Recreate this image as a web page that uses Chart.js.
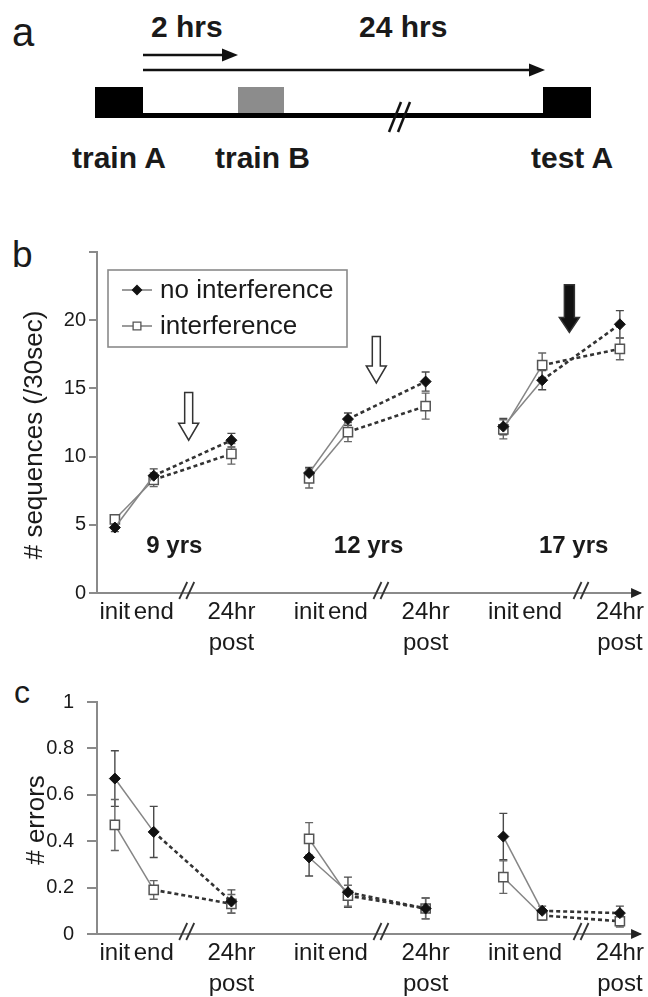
<!DOCTYPE html>
<html>
<head>
<meta charset="utf-8">
<script src="https://cdn.jsdelivr.net/npm/chart.js@4/dist/chart.umd.min.js"></script>
<style>
  html, body { margin: 0; padding: 0; background: #fff; }
  #page { position: relative; width: 648px; height: 997px; overflow: hidden; background: #fff; }
  #page svg, #page canvas { position: absolute; left: 0; }
  text { font-family: "Liberation Sans", Arial, sans-serif; fill: #1a1a1a; }
</style>
</head>
<body>
<div id="page">
  <svg width="648" height="200" style="top:0">
    <text x="12" y="46" font-size="40">a</text>
    <text x="151" y="37" font-size="30" font-weight="bold">2 hrs</text>
    <text x="359" y="37" font-size="30" font-weight="bold">24 hrs</text>
    <line x1="143" y1="55" x2="226" y2="55" stroke="#111" stroke-width="2.5"/>
    <polygon points="238,55 222,48.5 222,61.5" fill="#111"/>
    <line x1="143" y1="70" x2="533" y2="70" stroke="#111" stroke-width="2.5"/>
    <polygon points="545,70 529,63.5 529,76.5" fill="#111"/>
    <rect x="95" y="87" width="48" height="31" fill="#000"/>
    <rect x="238" y="87" width="46" height="27" fill="#8c8c8c"/>
    <rect x="543" y="87" width="48" height="31" fill="#000"/>
    <rect x="143" y="113" width="400" height="5" fill="#000"/>
    <line x1="389" y1="132" x2="401" y2="102" stroke="#111" stroke-width="2.5"/>
    <line x1="398" y1="132" x2="410" y2="102" stroke="#111" stroke-width="2.5"/>
    <text x="72" y="168" font-size="30" font-weight="bold">train A</text>
    <text x="215" y="168" font-size="30" font-weight="bold">train B</text>
    <text x="531" y="168" font-size="30" font-weight="bold">test A</text>
  </svg>
  <svg width="648" height="997" style="top:0;pointer-events:none">
    <text x="12" y="267" font-size="37">b</text>
    <text x="14" y="703" font-size="32">c</text>
  </svg>
  <canvas id="chartB" width="648" height="430" style="top:230px"></canvas>
  <canvas id="chartC" width="648" height="337" style="top:660px"></canvas>
</div>
<script>
// ---------- data ----------
const sessions = ['init', 'end', '24hr post'];
const ageGroups = ['9 yrs', '12 yrs', '17 yrs'];
const seriesNames = ['no interference', 'interference'];
// x position of each measurement (3 sessions x 3 age groups)
const xPositions = [1, 2, 4, 6, 7, 9, 11, 12, 14];
const sessionOfPoint = ['init', 'end', 'post', 'init', 'end', 'post', 'init', 'end', 'post'];
const xTickLabels = ['init', 'end', ['24hr', 'post'], 'init', 'end', ['24hr', 'post'], 'init', 'end', ['24hr', 'post']];
const breakPositions = [2.85, 7.85, 13.0];

// panel b: # sequences (/30sec)
const seqNoInterference    = [4.8, 8.6, 11.2, 8.8, 12.75, 15.5, 12.2, 15.6, 19.7];
const seqNoInterferenceErr = [0.3, 0.5, 0.5, 0.4, 0.45, 0.7, 0.6, 0.7, 1.0];
const seqInterference      = [5.4, 8.3, 10.2, 8.4, 11.8, 13.7, 12.0, 16.7, 17.9];
const seqInterferenceErr   = [0.3, 0.5, 0.75, 0.7, 0.7, 0.95, 0.7, 0.9, 0.8];
const seqYTicks = [0, 5, 10, 15, 20, 25];

// panel c: # errors
const errNoInterference    = [0.67, 0.44, 0.14, 0.33, 0.18, 0.11, 0.42, 0.10, 0.09];
const errNoInterferenceErr = [0.12, 0.11, 0.05, 0.08, 0.065, 0.045, 0.10, 0.02, 0.03];
const errInterference      = [0.47, 0.19, 0.13, 0.41, 0.165, 0.11, 0.245, 0.08, 0.055];
const errInterferenceErr   = [0.11, 0.04, 0.04, 0.07, 0.045, 0.045, 0.07, 0.02, 0.025];

// annotations in panel b
const ageLabelX = [2.53, 7.53, 12.81];
const ageLabelY = 3.4;
const arrowX = [2.9, 7.73, 12.7];
const arrowTopY = [14.7, 18.8, 22.6];
const arrowTipY = [11.2, 15.4, 19.1];
const arrowFilled = [false, false, true];

// ---------- helpers ----------
const FONT = '"Liberation Sans", Arial, sans-serif';
function buildPoints(ys, errs) {
  const pts = [];
  xPositions.forEach((x, i) => {
    pts.push({ x: x, y: ys[i], err: errs[i], session: sessionOfPoint[i] });
    if (sessionOfPoint[i] === 'post' && i < xPositions.length - 1) {
      pts.push({ x: x + 1, y: null, err: 0, session: 'gap' });
    }
  });
  return pts;
}
function isDotted(ctx) {
  const ds = ctx.chart.data.datasets[ctx.datasetIndex];
  const p = ds.data[ctx.p0DataIndex];
  return p && p.session === 'end';
}
function tickLabelFor(v) {
  const i = xPositions.indexOf(v);
  return i >= 0 ? xTickLabels[i] : '';
}
function drawMarker(ctx, style, x, y, r, fill, stroke, bw) {
  ctx.save();
  ctx.beginPath();
  if (style === 'rectRot') {
    ctx.moveTo(x, y - r); ctx.lineTo(x + r, y); ctx.lineTo(x, y + r); ctx.lineTo(x - r, y);
  } else {
    const h = r * Math.SQRT1_2;
    ctx.rect(x - h, y - h, 2 * h, 2 * h);
  }
  ctx.closePath();
  ctx.fillStyle = fill; ctx.fill();
  ctx.lineWidth = bw; ctx.strokeStyle = stroke; ctx.stroke();
  ctx.restore();
}

const errorBars = {
  id: 'errorBars',
  beforeDatasetsDraw(chart) {
    const { ctx, scales: { x, y } } = chart;
    chart.data.datasets.forEach((ds) => {
      ctx.save();
      ctx.strokeStyle = ds.errColor || '#555';
      ctx.lineWidth = 1.4;
      ds.data.forEach((p) => {
        if (p.y == null) return;
        const px = x.getPixelForValue(p.x);
        const t = y.getPixelForValue(p.y + p.err);
        const b = y.getPixelForValue(p.y - p.err);
        ctx.beginPath();
        ctx.moveTo(px, t); ctx.lineTo(px, b);
        ctx.moveTo(px - 4, t); ctx.lineTo(px + 4, t);
        ctx.moveTo(px - 4, b); ctx.lineTo(px + 4, b);
        ctx.stroke();
      });
      ctx.restore();
    });
  }
};

const decor = {
  id: 'decor',
  afterDraw(chart, args, opts) {
    const { ctx, chartArea: ca, scales: { x, y } } = chart;
    const y0 = y.getPixelForValue(0);
    ctx.save();
    // axis arrowhead
    ctx.fillStyle = '#222';
    ctx.beginPath();
    ctx.moveTo(ca.right + 2, y0); ctx.lineTo(ca.right - 9, y0 - 5); ctx.lineTo(ca.right - 9, y0 + 5);
    ctx.closePath(); ctx.fill();
    // axis breaks
    ctx.strokeStyle = '#333'; ctx.lineWidth = 1.8;
    breakPositions.forEach((bv) => {
      const bx = x.getPixelForValue(bv);
      [-3.5, 3.5].forEach((o) => {
        ctx.beginPath(); ctx.moveTo(bx + o - 4, y0 + 6); ctx.lineTo(bx + o + 4, y0 - 11); ctx.stroke();
      });
    });
    // y axis title
    ctx.save();
    ctx.translate(opts.titleX, opts.titleY);
    ctx.rotate(-Math.PI / 2);
    ctx.font = '26px ' + FONT; ctx.fillStyle = '#1a1a1a';
    ctx.textAlign = 'center'; ctx.textBaseline = 'middle';
    ctx.fillText(opts.title, 0, 0);
    ctx.restore();

    if (opts.annotate) {
      // age group labels
      ctx.font = 'bold 24px ' + FONT; ctx.fillStyle = '#1a1a1a';
      ctx.textAlign = 'center'; ctx.textBaseline = 'middle';
      ageGroups.forEach((g, i) => ctx.fillText(g, x.getPixelForValue(ageLabelX[i]), y.getPixelForValue(ageLabelY)));
      // down arrows
      arrowX.forEach((av, i) => {
        const ax = x.getPixelForValue(av);
        const top = y.getPixelForValue(arrowTopY[i]);
        const tip = y.getPixelForValue(arrowTipY[i]);
        const filled = arrowFilled[i];
        const sw = filled ? 5 : 4, hw = filled ? 10 : 10, hl = filled ? 15 : 17;
        ctx.beginPath();
        ctx.moveTo(ax - sw, top); ctx.lineTo(ax + sw, top); ctx.lineTo(ax + sw, tip - hl);
        ctx.lineTo(ax + hw, tip - hl); ctx.lineTo(ax, tip); ctx.lineTo(ax - hw, tip - hl);
        ctx.lineTo(ax - sw, tip - hl); ctx.closePath();
        ctx.fillStyle = filled ? '#111' : '#fff'; ctx.fill();
        ctx.strokeStyle = '#333'; ctx.lineWidth = 1.5; ctx.stroke();
      });
      // legend
      const lx = ca.left + 11, ly = ca.top + 18, lw = 239, lh = 77;
      ctx.strokeStyle = '#8a8a8a'; ctx.lineWidth = 1.6; ctx.strokeRect(lx, ly, lw, lh);
      chart.data.datasets.forEach((ds, i) => {
        const ry = ly + 20 + i * 36;
        ctx.strokeStyle = '#7a7a7a'; ctx.lineWidth = 1.5;
        ctx.beginPath(); ctx.moveTo(lx + 14, ry); ctx.lineTo(lx + 44, ry); ctx.stroke();
        drawMarker(ctx, ds.pointStyle, lx + 29, ry, i === 0 ? 4.5 : 5.5, ds.pointBackgroundColor, ds.pointBorderColor, 1.3);
        ctx.font = '26px ' + FONT; ctx.fillStyle = '#1a1a1a';
        ctx.textAlign = 'left'; ctx.textBaseline = 'middle';
        ctx.fillText(ds.label, lx + 52, ry + 1);
      });
    }
    ctx.restore();
  }
};

function makeDatasets(noVals, noErr, inVals, inErr) {
  const seg = {
    borderDash: (c) => (isDotted(c) ? [4, 3] : undefined),
    borderColor: (c) => (isDotted(c) ? '#333' : undefined),
    borderWidth: (c) => (isDotted(c) ? 2.6 : undefined)
  };
  return [
    {
      label: seriesNames[0], data: buildPoints(noVals, noErr),
      pointStyle: 'rectRot', pointRadius: 5.5, pointBackgroundColor: '#111', pointBorderColor: '#111', pointBorderWidth: 1,
      borderColor: '#858585', borderWidth: 1.5, segment: seg, errColor: '#4a4a4a'
    },
    {
      label: seriesNames[1], data: buildPoints(inVals, inErr),
      pointStyle: 'rect', pointRadius: 6.5, pointBackgroundColor: '#fff', pointBorderColor: '#555', pointBorderWidth: 1.5,
      borderColor: '#858585', borderWidth: 1.5, segment: seg, errColor: '#666'
    }
  ];
}

function makeOptions(cfg) {
  return {
    responsive: false, animation: false, spanGaps: false,
    layout: { padding: { top: cfg.padTop, right: 3, left: 0, bottom: 0 }, autoPadding: false },
    plugins: { legend: { display: false }, tooltip: { enabled: false }, decor: cfg.decor },
    elements: { line: { tension: 0 } },
    scales: {
      x: {
        type: 'linear', min: 0.54, max: 14.52,
        grid: { display: false, drawTicks: false },
        border: { display: true, color: '#8a8a8a', width: 2 },
        afterBuildTicks: (s) => { s.ticks = xPositions.map((v) => ({ value: v })); },
        ticks: {
          autoSkip: false, maxRotation: 0, minRotation: 0, padding: 4, color: '#1a1a1a',
          font: { family: FONT, size: 24, lineHeight: 1.28 },
          callback: (v) => tickLabelFor(v)
        },
        afterFit: (s) => { s.height = cfg.xHeight; }
      },
      y: {
        min: 0, max: cfg.yMax,
        afterBuildTicks: (s) => { s.ticks = cfg.yTicks.map((v) => ({ value: v })); },
        grid: { drawOnChartArea: false, drawTicks: true, tickLength: cfg.tickLen, color: '#8a8a8a', lineWidth: 2 },
        border: { display: true, color: '#8a8a8a', width: 2 },
        ticks: {
          padding: cfg.tickPad, color: '#1a1a1a', font: { family: FONT, size: 20 },
          callback: cfg.yLabel
        },
        afterFit: (s) => { s.width = 97; }
      }
    }
  };
}

new Chart(document.getElementById('chartB'), {
  type: 'line',
  data: { datasets: makeDatasets(seqNoInterference, seqNoInterferenceErr, seqInterference, seqInterferenceErr) },
  options: makeOptions({
    padTop: 22, xHeight: 67, yMax: 25, yTicks: seqYTicks, tickLen: 8, tickPad: 3,
    yLabel: (v) => (v === 25 ? '' : String(v)),
    decor: { title: '# sequences (/30sec)', titleX: 35, titleY: 205, annotate: true }
  }),
  plugins: [errorBars, decor]
});

const errYTicks = [0, 0.2, 0.4, 0.6, 0.8, 1];
new Chart(document.getElementById('chartC'), {
  type: 'line',
  data: { datasets: makeDatasets(errNoInterference, errNoInterferenceErr, errInterference, errInterferenceErr) },
  options: makeOptions({
    padTop: 42, xHeight: 63, yMax: 1, yTicks: errYTicks, tickLen: 10, tickPad: 13,
    yLabel: (v) => String(Math.round(v * 10) / 10),
    decor: { title: '# errors', titleX: 37, titleY: 160, annotate: false }
  }),
  plugins: [errorBars, decor]
});
</script>
</body>
</html>
